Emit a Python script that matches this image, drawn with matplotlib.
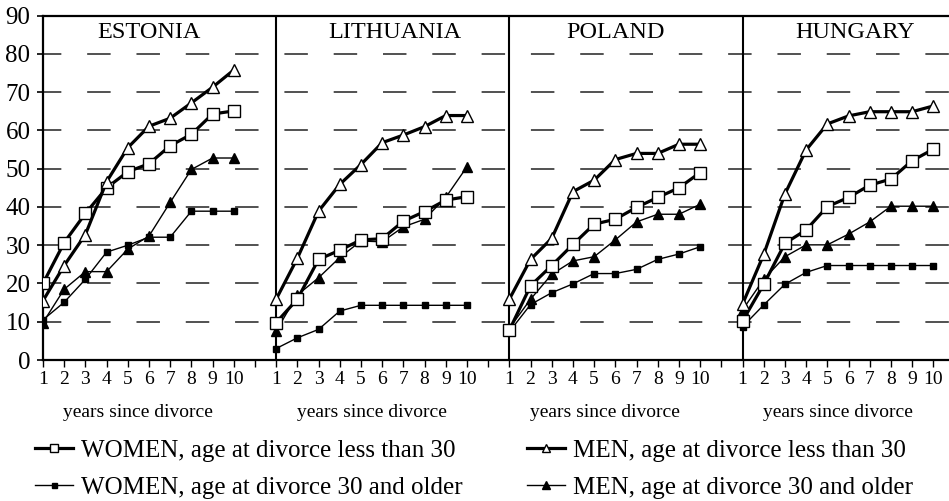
import matplotlib
matplotlib.use("Agg")
import matplotlib.pyplot as plt
from matplotlib.transforms import blended_transform_factory

plt.rcParams["font.family"] = ["Liberation Serif", "DejaVu Serif"]
plt.rcParams["lines.scale_dashes"] = False

countries = ["ESTONIA", "LITHUANIA", "POLAND", "HUNGARY"]
years = list(range(1, 11))

# % remarried, by years since divorce
women_young = {
    "ESTONIA":   [20.0, 30.7, 38.3, 45.0, 49.2, 51.3, 56.0, 59.0, 64.3, 65.1],
    "LITHUANIA": [9.8, 15.9, 26.3, 28.7, 31.4, 31.7, 36.3, 38.8, 41.8, 42.7],
    "POLAND":    [7.8, 19.4, 24.7, 30.2, 35.5, 36.8, 39.9, 42.5, 45.0, 49.0],
    "HUNGARY":   [10.2, 19.8, 30.5, 34.0, 40.1, 42.5, 45.7, 47.3, 52.1, 55.1],
}
women_old = {
    "ESTONIA":   [10.5, 15.1, 21.1, 28.2, 30.0, 32.1, 32.1, 38.9, 38.9, 38.9],
    "LITHUANIA": [3.0, 5.8, 8.0, 12.8, 14.3, 14.3, 14.3, 14.3, 14.3, 14.3],
    "POLAND":    [7.4, 14.5, 17.6, 19.9, 22.6, 22.6, 23.7, 26.3, 27.7, 29.6],
    "HUNGARY":   [8.7, 14.4, 19.8, 22.9, 24.7, 24.7, 24.7, 24.7, 24.7, 24.7],
}
men_young = {
    "ESTONIA":   [15.5, 24.7, 32.8, 46.6, 55.5, 61.1, 63.2, 67.2, 71.3, 75.8],
    "LITHUANIA": [15.9, 26.6, 38.9, 45.9, 51.1, 56.8, 58.8, 61.0, 63.9, 63.9],
    "POLAND":    [15.9, 26.3, 31.8, 44.0, 47.0, 52.4, 54.0, 54.0, 56.4, 56.4],
    "HUNGARY":   [14.6, 27.6, 43.4, 54.9, 61.7, 63.8, 64.9, 64.9, 64.9, 66.4],
}
men_old = {
    "ESTONIA":   [9.8, 18.5, 23.1, 23.1, 29.0, 32.4, 41.2, 49.8, 52.8, 52.8],
    "LITHUANIA": [7.6, 17.0, 21.5, 26.8, 31.1, 30.9, 34.8, 36.8, 42.5, 50.5],
    "POLAND":    [8.3, 15.9, 22.4, 25.9, 27.0, 31.4, 36.1, 38.1, 38.1, 40.7],
    "HUNGARY":   [13.1, 21.1, 27.0, 30.1, 30.1, 32.9, 36.1, 40.2, 40.2, 40.2],
}

labels = [
    "WOMEN, age at divorce less than 30",
    "WOMEN, age at divorce 30 and older",
    "MEN, age at divorce less than 30",
    "MEN, age at divorce 30 and older",
]

# line width, marker, marker size, face colour
styles = [
    (2.3, "s", 8.0, "white"),
    (1.0, "s", 4.5, "black"),
    (2.3, "^", 8.0, "white"),
    (1.0, "^", 7.0, "black"),
]
series = [women_young, women_old, men_young, men_old]

fig = plt.figure(figsize=(9.49, 5.01), dpi=100)
ax = fig.add_axes([0.0453, 0.2814, 0.9547, 0.6873])

gap = 11  # 10 years + one empty slot per country
title_x = [6.0, 17.6, 28.0, 39.3]

handles = []
for k, c in enumerate(countries):
    xs = [y + gap * k for y in years]
    for s, data in enumerate(series):
        lw, mk, ms, fc = styles[s]
        h, = ax.plot(xs, data[c], color="black", lw=lw, marker=mk, ms=ms,
                     mfc=fc, mec="black", mew=1.0, zorder=3 + (s % 2 == 0))
        if k == 0:
            handles.append(h)
    ax.text(title_x[k], 85.5, c, ha="center", va="center", fontsize=17.5)

# panel dividers
for k in range(1, 4):
    ax.axvline(1 + gap * k, color="black", lw=1.5, zorder=2)

# dashed gridlines
for yv in range(10, 90, 10):
    ax.axhline(yv, color="#222222", lw=1.1, ls=(3.7, (16.9, 18.6)), zorder=1)

ax.set_xlim(1, 43.74)
ax.set_ylim(0, 90)

ticks = list(range(1, 44))
ticklabels = [str((t - 1) % gap + 1) if (t - 1) % gap < 10 else "" for t in ticks]
ax.set_xticks(ticks)
ax.set_xticklabels(ticklabels, fontsize=14)
ax.set_yticks(range(0, 91, 10))
ax.tick_params(axis="y", labelsize=18, length=4, width=1.2, pad=5)
ax.tick_params(axis="x", length=5, width=1.0, pad=3)

for side in ["left", "bottom", "top"]:
    ax.spines[side].set_linewidth(1.6)
ax.spines["right"].set_visible(False)

trans = blended_transform_factory(ax.transData, ax.transAxes)
for k in range(4):
    ax.text(5.5 + gap * k, -0.151, "years since divorce", transform=trans,
            ha="center", va="center", fontsize=14)

fig.legend(handles, labels, ncol=2, loc="upper left",
           bbox_to_anchor=(0.0369, 0.123), frameon=False, fontsize=18,
           handlelength=1.5, handletextpad=0.35, columnspacing=2.57,
           labelspacing=0.58, borderpad=0, borderaxespad=0, markerscale=0.8)

fig.savefig("out.png", dpi=100)
